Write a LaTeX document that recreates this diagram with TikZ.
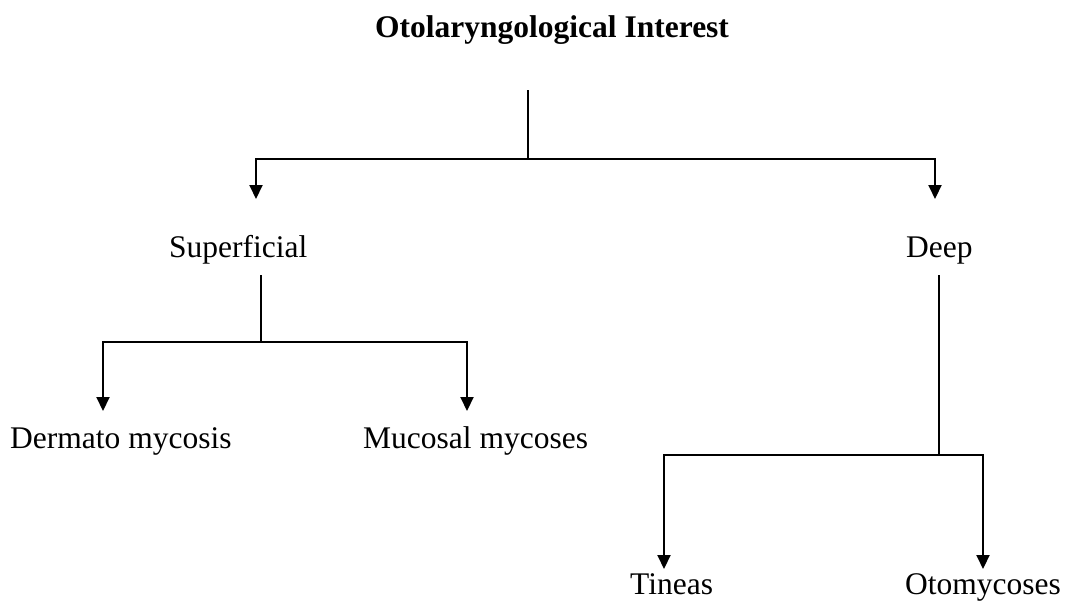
\documentclass[tikz,border=0pt]{standalone}
\usepackage{fontspec}
\setmainfont{Liberation Serif}
\usetikzlibrary{arrows.meta}
\begin{document}
\begin{tikzpicture}[x=1pt,y=-1pt,
  lbl/.style={anchor=base west,inner sep=0pt,font=\fontsize{31.5}{38}\selectfont},
  ttl/.style={anchor=base west,inner sep=0pt,font=\fontsize{31.5}{38}\selectfont\bfseries},
  conn/.style={line width=2pt},
  arr/.style={line width=2pt,-{Triangle[width=13pt,length=14pt]}}]
\useasboundingbox[fill=white] (0,0) rectangle (1067,600);
\node[ttl] (title) at (375,37) {Otolaryngological Interest};
\node[lbl] (sup) at (169,257) {Superficial};
\node[lbl] (deep) at (906,257) {Deep};
\node[lbl] (derm) at (10,448) {Dermato mycosis};
\node[lbl] (muc) at (363,448) {Mucosal mycoses};
\node[lbl] (tin) at (630,594) {Tineas};
\node[lbl] (oto) at (905,594) {Otomycoses};
% coordinates
\coordinate (r0) at (527.7,90);
\coordinate (r1) at (527.7,158.5);
\coordinate (aSup) at (256,199);
\coordinate (aDeep) at (935,199);
\coordinate (s0) at (261,275);
\coordinate (s1) at (261,342);
\coordinate (aDerm) at (103,411);
\coordinate (aMuc) at (467,411);
\coordinate (d0) at (939,275);
\coordinate (d1) at (939,455);
\coordinate (aTin) at (664,569);
\coordinate (aOto) at (983,569);
\draw[conn] (r0) -- (r1);
\draw[arr] (r1) -| (aSup);
\draw[arr] (r1) -| (aDeep);
\draw[conn] (s0) -- (s1);
\draw[arr] (s1) -| (aDerm);
\draw[arr] (s1) -| (aMuc);
\draw[conn] (d0) -- (d1);
\draw[arr] (d1) -| (aTin);
\draw[arr] (d1) -| (aOto);
\end{tikzpicture}
\end{document}
